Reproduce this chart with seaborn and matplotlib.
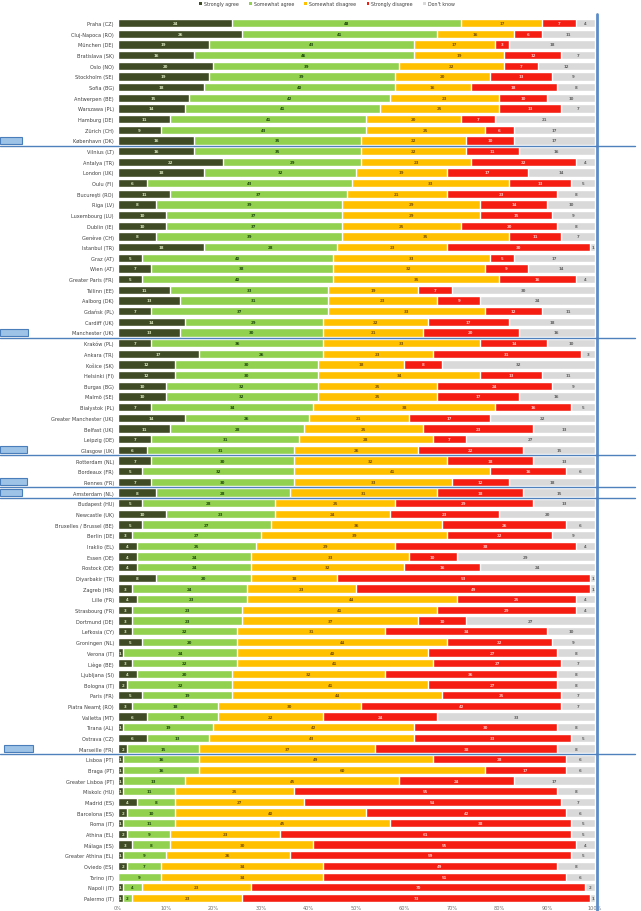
import matplotlib
matplotlib.use("Agg")
import matplotlib.pyplot as plt
import matplotlib.transforms as mtransforms
from matplotlib.patches import Patch, Rectangle
from matplotlib.lines import Line2D
import seaborn as sns
import pandas as pd

# ---- data (% of respondents) ----
cities = [
    "Praha (CZ)", "Cluj-Napoca (RO)", "München (DE)", "Bratislava (SK)", "Oslo (NO)",
    "Stockholm (SE)", "Sofia (BG)", "Antwerpen (BE)", "Warszawa (PL)", "Hamburg (DE)",
    "Zürich (CH)", "København (DK)", "Vilnius (LT)", "Antalya (TR)", "London (UK)",
    "Oulu (FI)", "Bucureşti (RO)", "Riga (LV)", "Luxembourg (LU)", "Dublin (IE)",
    "Genève (CH)", "Istanbul (TR)", "Graz (AT)", "Wien (AT)", "Greater Paris (FR)",
    "Tallinn (EE)", "Aalborg (DK)", "Gdańsk (PL)", "Cardiff (UK)", "Manchester (UK)",
    "Kraków (PL)", "Ankara (TR)", "Košice (SK)", "Helsinki (FI)", "Burgas (BG)",
    "Malmö (SE)", "Białystok (PL)", "Greater Manchester (UK)", "Belfast (UK)", "Leipzig (DE)",
    "Glasgow (UK)", "Rotterdam (NL)", "Bordeaux (FR)", "Rennes (FR)", "Amsterdam (NL)",
    "Budapest (HU)", "Newcastle (UK)", "Bruxelles / Brussel (BE)", "Berlin (DE)", "Iraklio (EL)",
    "Essen (DE)", "Rostock (DE)", "Diyarbakir (TR)", "Zagreb (HR)", "Lille (FR)",
    "Strasbourg (FR)", "Dortmund (DE)", "Lefkosia (CY)", "Groningen (NL)", "Verona (IT)",
    "Liège (BE)", "Ljubljana (SI)", "Bologna (IT)", "Paris (FR)", "Piatra Neamţ (RO)",
    "Valletta (MT)", "Tirana (AL)", "Ostrava (CZ)", "Marseille (FR)", "Lisboa (PT)",
    "Braga (PT)", "Greater Lisboa (PT)", "Miskolc (HU)", "Madrid (ES)", "Barcelona (ES)",
    "Roma (IT)", "Athina (EL)", "Málaga (ES)", "Greater Athina (EL)", "Oviedo (ES)",
    "Torino (IT)", "Napoli (IT)", "Palermo (IT)",
]

strongly_agree = [
    24, 26, 19, 16, 20, 19, 18, 15, 14, 11, 9, 16, 16, 22, 18, 6, 11, 8, 10, 10,
    8, 18, 5, 7, 5, 11, 13, 7, 14, 13, 7, 17, 12, 12, 10, 10, 7, 14, 11, 7,
    6, 7, 5, 7, 8, 5, 10, 5, 3, 4, 4, 4, 8, 3, 4, 3, 3, 3, 5, 1,
    3, 4, 2, 5, 3, 6, 1, 6, 2, 1, 1, 1, 1, 4, 2, 1, 2, 3, 1, 2,
    0, 1, 1,
]
somewhat_agree = [
    48, 41, 43, 46, 39, 39, 40, 42, 41, 41, 43, 35, 35, 29, 32, 43, 37, 39, 37, 37,
    39, 28, 40, 38, 40, 33, 31, 37, 29, 30, 36, 26, 30, 30, 32, 32, 34, 26, 28, 31,
    31, 30, 32, 30, 28, 28, 23, 27, 27, 25, 24, 24, 20, 24, 23, 23, 23, 22, 20, 24,
    22, 20, 22, 19, 18, 15, 19, 13, 15, 16, 16, 13, 11, 8, 10, 11, 9, 8, 9, 7,
    9, 4, 2,
]
somewhat_disagree = [
    17, 16, 17, 19, 22, 20, 16, 23, 25, 20, 25, 22, 22, 23, 19, 33, 21, 29, 29, 25,
    35, 23, 33, 32, 35, 19, 23, 33, 22, 21, 33, 23, 18, 34, 25, 25, 38, 21, 25, 28,
    26, 32, 41, 33, 31, 25, 24, 36, 39, 29, 33, 32, 18, 23, 44, 41, 37, 31, 44, 40,
    41, 32, 41, 44, 30, 22, 42, 43, 37, 49, 60, 45, 25, 27, 40, 45, 23, 30, 26, 34,
    34, 23, 23,
]
strongly_disagree = [
    7, 6, 3, 12, 7, 13, 18, 10, 13, 7, 6, 10, 11, 22, 17, 13, 23, 14, 15, 20,
    11, 30, 5, 9, 16, 7, 9, 12, 17, 20, 14, 31, 8, 13, 24, 17, 16, 17, 23, 7,
    22, 18, 16, 12, 18, 29, 23, 26, 22, 38, 10, 16, 53, 49, 25, 29, 10, 34, 22, 27,
    27, 36, 27, 25, 42, 24, 30, 33, 38, 28, 17, 24, 55, 54, 42, 38, 61, 55, 59, 49,
    51, 70, 73,
]
dont_know = [
    4, 11, 18, 7, 12, 9, 8, 10, 7, 21, 17, 17, 16, 4, 14, 5, 8, 10, 9, 8,
    7, 1, 17, 14, 4, 30, 24, 11, 18, 16, 10, 3, 32, 11, 9, 16, 5, 22, 13, 27,
    15, 13, 6, 18, 15, 13, 20, 6, 9, 4, 29, 24, 1, 1, 4, 4, 27, 10, 9, 8,
    7, 8, 8, 7, 7, 33, 8, 5, 8, 6, 6, 17, 8, 7, 6, 5, 5, 4, 5, 8,
    6, 2, 1,
]

layers = ["Strongly agree", "Somewhat agree", "Somewhat disagree", "Strongly disagree", "Don't know"]
colors = ["#3f4b24", "#92d050", "#ffc000", "#f51d12", "#d9d9d9"]
text_colors = ["#d8e4bc", "#1d4a0c", "#7a5200", "#ffc4c0", "#606060"]

df = pd.DataFrame({
    "city": cities,
    "Strongly agree": strongly_agree,
    "Somewhat agree": somewhat_agree,
    "Somewhat disagree": somewhat_disagree,
    "Strongly disagree": strongly_disagree,
    "Don't know": dont_know,
})
cum = df[layers].cumsum(axis=1)

sns.set_style("white")
plt.rcParams["font.family"] = ["DejaVu Sans"]

fig = plt.figure(figsize=(6.41, 9.12), dpi=100)
ax = fig.add_axes([0.184, 0.0084, 0.744, 0.9711])

# stacked bars: draw cumulative totals from widest to narrowest
for layer, col in reversed(list(zip(layers, colors))):
    sns.barplot(x=cum[layer], y=df["city"], orient="h", color=col,
                saturation=1, width=0.78, errorbar=None, ax=ax)

# value labels in the middle of each segment
for i in range(len(df)):
    for layer, tc in zip(layers, text_colors):
        v = df.loc[i, layer]
        if v <= 0:
            continue
        ax.text(cum.loc[i, layer] - v / 2, i, str(v), ha="center", va="center",
                fontsize=2.8, color=tc, fontweight="bold")

ax.set_xlim(0, 100)
ax.set_ylim(len(df) - 0.5, -0.5)
ax.set_xticks(range(0, 101, 10))
ax.set_xticklabels([f"{t}%" for t in range(0, 101, 10)])
ax.set_xlabel("")
ax.set_ylabel("")
ax.tick_params(axis="y", labelsize=3.6, length=0, pad=3, labelcolor="#404040")
ax.tick_params(axis="x", labelsize=3.6, length=0, pad=1, labelcolor="#707070")
for s in ax.spines.values():
    s.set_visible(False)

handles = [Patch(facecolor=c, edgecolor="none") for c in colors]
fig.legend(handles, layers, loc="upper center", bbox_to_anchor=(0.51, 1.002), ncol=5,
           fontsize=3.4, frameon=False, handlelength=0.6, handleheight=0.6,
           handletextpad=0.4, columnspacing=2.2, labelcolor="#404040")

# blue annotation overlay: vertical rule on the right, group separators with tags
vt = mtransforms.blended_transform_factory(ax.transData, fig.transFigure)
fig.add_artist(Line2D([100.4, 100.4], [0, 0.984], transform=vt,
                      color="#5b8cc8", lw=2.0))

ht = mtransforms.blended_transform_factory(fig.transFigure, ax.transData)
separators = [11.5, 29.5, 40.5, 43.5, 44.5, 68.5]
tag_x = [(0.0, 0.034), (0.0, 0.043), (0.0, 0.042), (0.0, 0.042), (0.0, 0.034), (0.007, 0.051)]
for yline, (x0, x1) in zip(separators, tag_x):
    fig.add_artist(Line2D([0, 0.99], [yline, yline], transform=ht,
                          color="#4f81bd", lw=1.0))
    fig.add_artist(Rectangle((x0, yline - 0.82), x1 - x0, 0.62, transform=ht,
                             facecolor="#9dc3e6", edgecolor="#4a7ebb", lw=0.8))

fig.savefig("out.png", dpi=100)
